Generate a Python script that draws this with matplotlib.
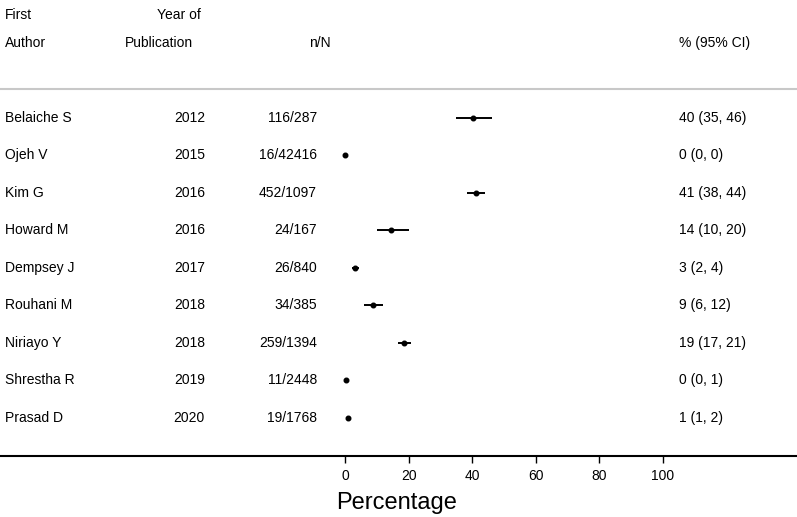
import matplotlib
matplotlib.use('Agg')
import matplotlib.pyplot as plt
from matplotlib import transforms

plt.rcParams['font.family'] = ['Liberation Sans', 'DejaVu Sans']

# study data
authors = ['Belaiche S', 'Ojeh V', 'Kim G', 'Howard M', 'Dempsey J',
           'Rouhani M', 'Niriayo Y', 'Shrestha R', 'Prasad D']
years = ['2012', '2015', '2016', '2016', '2017', '2018', '2018', '2019', '2020']
n_over_N = ['116/287', '16/42416', '452/1097', '24/167', '26/840',
            '34/385', '259/1394', '11/2448', '19/1768']
est = [40.4, 0.04, 41.2, 14.4, 3.1, 8.8, 18.6, 0.45, 1.07]
lo = [35.0, 0.0, 38.4, 10.0, 2.1, 6.1, 16.6, 0.2, 0.7]
hi = [46.2, 0.1, 44.1, 20.1, 4.5, 12.0, 20.7, 0.7, 1.6]
ci_text = ['40 (35, 46)', '0 (0, 0)', '41 (38, 44)', '14 (10, 20)', '3 (2, 4)',
           '9 (6, 12)', '19 (17, 21)', '0 (0, 1)', '1 (1, 2)']

W, H = 797, 517
fig = plt.figure(figsize=(W / 100, H / 100), dpi=100)
ax = fig.add_axes([0, 61 / H, 1, 456 / H])

# pixel -> data helpers
x0, xs = 345.0, 3.18
y0, ys = 118.0, 37.5
ax.set_xlim(-x0 / xs, (W - x0) / xs)
ax.set_ylim((456 - y0) / ys, -y0 / ys)

def ry(py):
    return (py - y0) / ys

tr = transforms.blended_transform_factory(ax.transAxes, ax.transData)
def fx(px):
    return px / W

rows = range(len(authors))
for i in rows:
    ax.plot([lo[i], hi[i]], [i, i], color='black', lw=1.4, solid_capstyle='butt')
    ax.plot(est[i], i, 'o', color='black', ms=3.3)
    ax.text(fx(5), i, authors[i], transform=tr, ha='left', va='center', fontsize=10)
    ax.text(fx(205), i, years[i], transform=tr, ha='right', va='center', fontsize=10)
    ax.text(fx(317), i, n_over_N[i], transform=tr, ha='right', va='center', fontsize=10)
    ax.text(fx(679), i, ci_text[i], transform=tr, ha='left', va='center', fontsize=10)

# header
ax.text(fx(5), ry(15), 'First', transform=tr, ha='left', va='center', fontsize=10)
ax.text(fx(5), ry(43), 'Author', transform=tr, ha='left', va='center', fontsize=10)
ax.text(fx(157), ry(15), 'Year of', transform=tr, ha='left', va='center', fontsize=10)
ax.text(fx(125), ry(43), 'Publication', transform=tr, ha='left', va='center', fontsize=10)
ax.text(fx(309), ry(43), 'n/N', transform=tr, ha='left', va='center', fontsize=10)
ax.text(fx(679), ry(43), '% (95% CI)', transform=tr, ha='left', va='center', fontsize=10)
ax.axhline(ry(89), color='#c8c8c8', lw=1.5)

ax.set_xticks([0, 20, 40, 60, 80, 100])
ax.tick_params(axis='x', direction='out', length=5, width=1, labelsize=10, pad=4)
ax.set_yticks([])
for s in ['top', 'left', 'right']:
    ax.spines[s].set_visible(False)
ax.spines['bottom'].set_linewidth(1.5)

fig.text(397 / W, 1 - 503 / H, 'Percentage', ha='center', va='center', fontsize=17)

fig.savefig('out.png', dpi=100)
